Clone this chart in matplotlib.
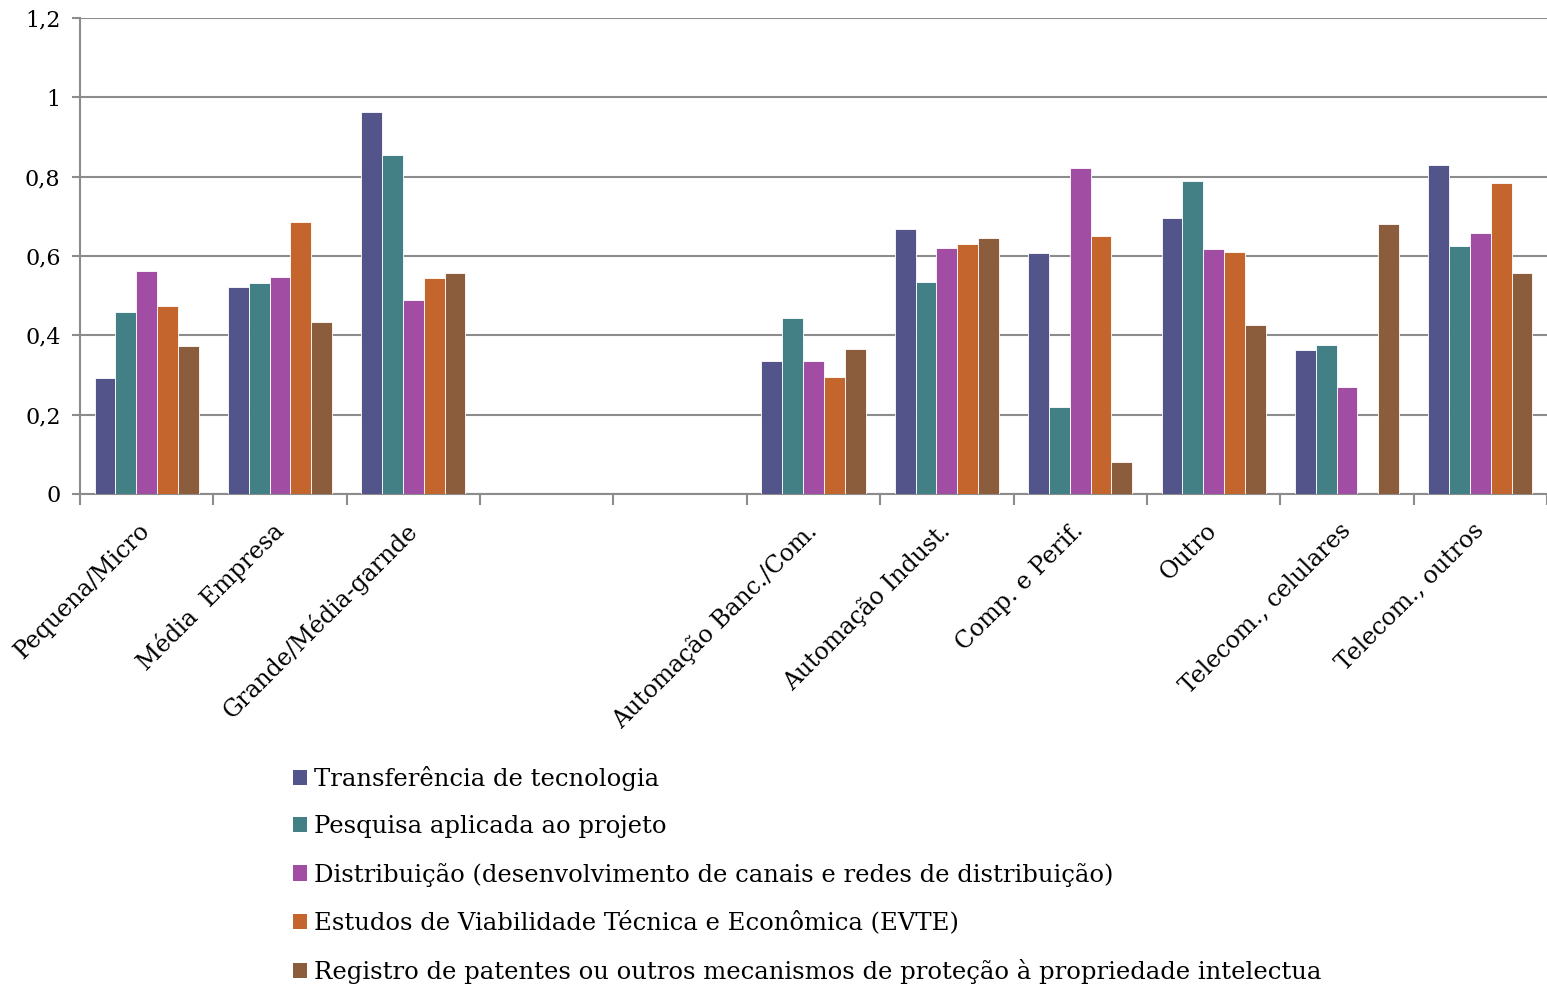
import numpy as np
import matplotlib.pyplot as plt
from matplotlib.patches import Patch

plt.rcParams['font.family'] = ['DejaVu Serif']

categories = ["Pequena/Micro", "Média  Empresa", "Grande/Média-garnde", "", "",
              "Automação Banc./Com.", "Automação Indust.", "Comp. e Perif.",
              "Outro", "Telecom., celulares", "Telecom., outros"]

series_names = ["Transferência de tecnologia",
                "Pesquisa aplicada ao projeto",
                "Distribuição (desenvolvimento de canais e redes de distribuição)",
                "Estudos de Viabilidade Técnica e Econômica (EVTE)",
                "Registro de patentes ou outros mecanismos de proteção à propriedade intelectua"]

transferencia = [0.292, 0.522, 0.963, 0, 0, 0.335, 0.668, 0.608, 0.696, 0.363, 0.829]
pesquisa = [0.459, 0.532, 0.855, 0, 0, 0.444, 0.534, 0.219, 0.789, 0.376, 0.625]
distribuicao = [0.562, 0.547, 0.489, 0, 0, 0.335, 0.620, 0.822, 0.618, 0.270, 0.658]
evte = [0.474, 0.686, 0.545, 0, 0, 0.295, 0.630, 0.650, 0.610, 0, 0.784]
patentes = [0.373, 0.434, 0.557, 0, 0, 0.366, 0.645, 0.081, 0.426, 0.681, 0.557]

colors = ["#53548A", "#438086", "#A04DA3", "#C4652D", "#8B5D3D"]

yticks = [0, 0.2, 0.4, 0.6, 0.8, 1, 1.2]
ytick_labels = ["0", "0,2", "0,4", "0,6", "0,8", "1", "1,2"]

fig = plt.figure(figsize=(15.47, 9.9), dpi=100)
ax = fig.add_axes([80 / 1547, 1 - 494 / 990, 1467 / 1547, 476 / 990])

data = [transferencia, pesquisa, distribuicao, evte, patentes]
x = np.arange(len(categories))
w = 0.156
for i, vals in enumerate(data):
    ax.bar(x + (i - 2) * w, vals, width=w, color=colors[i],
           edgecolor="white", linewidth=0.6, zorder=3)

ax.set_xlim(-0.5, len(categories) - 0.5)
ax.set_ylim(0, 1.2)
ax.set_yticks(yticks)
ax.set_yticklabels(ytick_labels, fontsize=16)
ax.yaxis.grid(True, color="#8c8c8c", linewidth=1.5, zorder=0)

ax.set_xticks(x)
ax.set_xticklabels(categories, rotation=45, ha="right", va="center",
                   rotation_mode="anchor", fontsize=17)
ax.tick_params(axis="x", which="major", length=0, pad=24)
ax.set_xticks(np.arange(len(categories) + 1) - 0.5, minor=True)
ax.tick_params(axis="x", which="minor", length=8, color="#8c8c8c", width=1.5)
ax.tick_params(axis="y", length=6, color="#8c8c8c", width=1.5, pad=8)

for s in ["top", "right"]:
    ax.spines[s].set_visible(False)
for s in ["left", "bottom"]:
    ax.spines[s].set_color("#8c8c8c")
    ax.spines[s].set_linewidth(1.5)

handles = [Patch(facecolor=c, edgecolor="none") for c in colors]
fig.legend(handles, series_names, loc="upper left",
           bbox_to_anchor=(293 / 1547, 1 - 766 / 990), frameon=False,
           fontsize=17.5, handlelength=0.58, handleheight=0.58,
           handletextpad=0.3, labelspacing=1.0, borderaxespad=0, borderpad=0)

fig.savefig("out.png", dpi=100)
